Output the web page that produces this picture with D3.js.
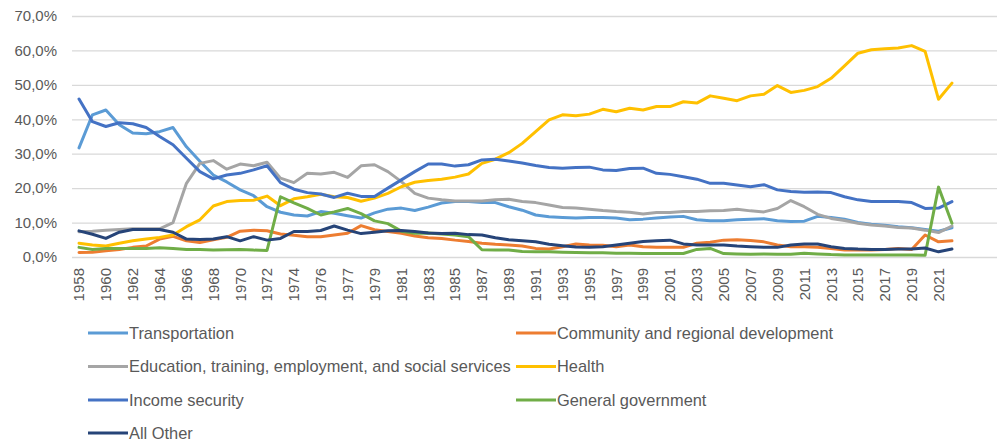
<!DOCTYPE html>
<html>
<head>
<meta charset="utf-8">
<script src="https://cdn.jsdelivr.net/npm/d3@7"></script>
<style>
  html, body { margin: 0; padding: 0; background: #ffffff; }
  svg { display: block; }
  text { font-family: "Liberation Sans", Arial, sans-serif; fill: #595959; }
</style>
</head>
<body>
<svg id="chart" width="1005" height="444"></svg>
<script>
// ---------- DATA ----------
const years = [
  "1958","1959","1960","1961","1962","1963","1964","1965","1966","1967",
  "1968","1969","1970","1971","1972","1973","1974","1975","1976","TQ",
  "1977","1978","1979","1980","1981","1982","1983","1984","1985","1986",
  "1987","1988","1989","1990","1991","1992","1993","1994","1995","1996",
  "1997","1998","1999","2000","2001","2002","2003","2004","2005","2006",
  "2007","2008","2009","2010","2011","2012","2013","2014","2015","2016",
  "2017","2018","2019","2020","2021","2022"
];

const transportation = [
  31.7,41.3,42.7,38.4,36.0,35.8,36.4,37.6,32.0,27.8,
  23.8,21.8,19.5,17.8,14.6,13.0,12.2,11.9,13.2,12.7,
  12.0,11.3,12.8,13.9,14.2,13.5,14.5,15.7,16.1,16.1,
  15.8,15.8,14.6,13.6,12.2,11.7,11.5,11.3,11.5,11.5,
  11.3,10.8,11.0,11.3,11.6,11.8,10.8,10.5,10.5,10.8,
  11.0,11.1,10.5,10.3,10.4,11.8,11.5,11.0,10.0,9.5,
  9.2,8.8,8.5,8.0,7.5,8.5
];

const community = [
  1.3,1.4,1.8,2.2,2.8,3.2,5.2,6.0,4.7,4.2,
  5.0,5.7,7.5,7.8,7.6,6.7,6.3,5.9,5.9,6.4,
  6.9,9.1,7.9,7.4,6.9,6.1,5.6,5.4,4.9,4.5,
  4.0,3.7,3.5,3.2,2.5,2.3,3.0,3.8,3.5,3.4,
  3.0,3.5,3.0,2.8,2.8,2.8,4.0,4.3,4.9,5.0,
  4.8,4.4,3.5,3.0,3.0,2.8,2.5,2.0,2.0,2.0,
  2.2,2.5,2.2,6.4,4.4,4.7
];

const education = [
  7.3,7.5,7.8,8.0,8.2,8.2,8.2,10.0,21.4,27.2,
  28.0,25.5,27.0,26.5,27.5,22.9,21.6,24.3,24.1,24.6,
  23.1,26.5,26.8,24.8,21.9,18.5,17.1,16.6,16.3,16.3,
  16.3,16.6,16.8,16.1,15.8,15.1,14.4,14.2,13.9,13.5,
  13.2,13.0,12.5,12.9,12.9,13.2,13.2,13.4,13.5,13.9,
  13.4,13.1,14.1,16.4,14.6,12.4,11.2,10.6,9.8,9.3,
  9.0,8.6,8.4,7.8,7.1,9.0
];

const health = [
  4.0,3.5,3.2,4.0,4.7,5.2,5.7,6.4,8.8,10.8,
  14.8,16.1,16.4,16.5,17.7,14.9,16.9,17.5,18.2,17.5,
  17.3,16.2,17.1,18.5,20.4,21.7,22.2,22.6,23.2,24.1,
  27.2,28.4,30.3,33.0,36.4,39.8,41.3,41.0,41.5,42.9,
  42.2,43.2,42.7,43.7,43.7,45.1,44.7,46.8,46.1,45.4,
  46.8,47.3,49.8,47.8,48.4,49.5,51.9,55.5,59.2,60.2,
  60.5,60.7,61.4,59.7,45.8,50.5
];

const incomeSecurity = [
  45.9,39.3,37.9,39.0,38.7,37.6,35.0,32.6,28.7,24.8,
  22.7,23.8,24.3,25.3,26.5,21.6,19.7,18.7,18.3,17.3,
  18.5,17.6,17.6,20.0,22.4,24.8,27.0,27.0,26.4,26.8,
  28.2,28.4,27.9,27.3,26.6,26.0,25.8,26.0,26.1,25.3,
  25.1,25.7,25.8,24.3,24.0,23.3,22.6,21.4,21.4,20.9,
  20.4,21.0,19.5,19.0,18.8,18.9,18.7,17.5,16.6,16.1,
  16.1,16.1,15.8,14.1,14.2,16.1
];

const generalGovernment = [
  2.8,2.2,2.5,2.5,2.5,2.5,2.7,2.5,2.2,2.2,
  2.0,2.1,2.2,2.0,1.9,17.5,15.7,14.1,12.2,13.1,
  14.1,12.6,10.5,9.7,7.5,6.9,7.0,6.7,6.4,5.9,
  2.1,2.0,2.0,1.6,1.5,1.5,1.4,1.3,1.2,1.2,
  1.1,1.1,1.0,1.0,1.0,1.0,2.2,2.5,1.0,0.9,
  0.8,0.9,0.8,0.8,1.1,0.9,0.7,0.6,0.6,0.6,
  0.6,0.6,0.6,0.5,20.3,9.8
];

const allOther = [
  7.6,6.6,5.4,7.2,8.0,8.0,8.0,7.2,5.2,5.1,
  5.2,5.9,4.7,5.9,4.9,5.4,7.4,7.4,7.7,9.0,
  7.8,6.8,7.2,7.6,7.7,7.4,7.0,6.8,6.9,6.5,
  6.4,5.6,5.0,4.7,4.4,3.7,3.3,2.9,2.8,3.0,
  3.5,4.0,4.5,4.7,4.9,3.8,3.5,3.5,3.5,3.2,
  3.0,2.8,2.8,3.5,3.8,3.8,3.0,2.5,2.3,2.2,
  2.2,2.3,2.3,2.6,1.5,2.3
];

const seriesNames = [
  "Transportation",
  "Community and regional development",
  "Education, training, employment, and social services",
  "Health",
  "Income security",
  "General government",
  "All Other"
];
const seriesValues = [transportation, community, education, health, incomeSecurity, generalGovernment, allOther];
const seriesColors = ["#5B9BD5", "#ED7D31", "#A5A5A5", "#FFC000", "#4472C4", "#70AD47", "#264478"];

const yTicks = [0, 10, 20, 30, 40, 50, 60, 70];

// ---------- LAYOUT ----------
const svg = d3.select("#chart");
const plotLeft = 72, plotRight = 997, plotTop = 16, plotBottom = 257;
const bandStep = 13.43;

const x = d3.scaleBand()
  .domain(years)
  .range([plotLeft + 0.3, plotLeft + 0.3 + bandStep * years.length])
  .paddingInner(0).paddingOuter(0);
const xc = d => x(d) + x.bandwidth() / 2;

const y = d3.scaleLinear().domain([0, 70]).range([plotBottom, plotTop]);

// gridlines
svg.append("g")
  .selectAll("line")
  .data(yTicks)
  .join("line")
  .attr("x1", plotLeft).attr("x2", plotRight)
  .attr("y1", d => y(d) + 0.5).attr("y2", d => y(d) + 0.5)
  .attr("stroke", "#d9d9d9").attr("stroke-width", 1.3);

// y axis labels
const fmt = v => d3.format(".1f")(v).replace(".", ",") + "%";
const yAxis = d3.axisLeft(y).tickValues(yTicks).tickFormat(fmt).tickSize(0).tickPadding(0);
const yg = svg.append("g").attr("transform", "translate(57,0)").call(yAxis);
yg.select(".domain").remove();
yg.selectAll("text").attr("font-size", "15px").attr("fill", "#595959")
  .style("font-family", "'Liberation Sans', Arial, sans-serif");

// x axis labels (every other category)
const xAxis = d3.axisBottom(x)
  .tickValues(years.filter((d, i) => i % 2 === 0))
  .tickSize(0).tickPadding(0);
const xg = svg.append("g").attr("transform", `translate(0,${plotBottom + 11})`).call(xAxis);
xg.select(".domain").remove();
xg.selectAll("text")
  .attr("font-size", "15px").attr("fill", "#595959")
  .style("font-family", "'Liberation Sans', Arial, sans-serif")
  .attr("text-anchor", "end")
  .attr("transform", "rotate(-90)")
  .attr("x", 0).attr("y", 0).attr("dy", "0.36em");

// lines
const line = d3.line()
  .x((d, i) => xc(years[i]))
  .y(d => y(d));

svg.append("g")
  .selectAll("path")
  .data(seriesValues)
  .join("path")
  .attr("d", d => line(d))
  .attr("fill", "none")
  .attr("stroke", (d, i) => seriesColors[i])
  .attr("stroke-width", 3)
  .attr("stroke-linejoin", "round")
  .attr("stroke-linecap", "round");

// legend
const legendItems = [
  { k: 0, col: 0, row: 0 },
  { k: 1, col: 1, row: 0 },
  { k: 2, col: 0, row: 1 },
  { k: 3, col: 1, row: 1 },
  { k: 4, col: 0, row: 2 },
  { k: 5, col: 1, row: 2 },
  { k: 6, col: 0, row: 3 }
];
const colX = [88, 516];
const rowY = [333, 366.5, 400, 433];
const lg = svg.append("g");
const li = lg.selectAll("g").data(legendItems).join("g")
  .attr("transform", d => `translate(${colX[d.col]},${rowY[d.row]})`);
li.append("line")
  .attr("x1", 0).attr("x2", 40).attr("y1", 0).attr("y2", 0)
  .attr("stroke", d => seriesColors[d.k]).attr("stroke-width", 3);
li.append("text")
  .attr("x", 41).attr("y", 0).attr("dy", "0.35em")
  .attr("font-size", "16.4px").attr("fill", "#595959")
  .text(d => seriesNames[d.k]);
</script>
</body>
</html>
